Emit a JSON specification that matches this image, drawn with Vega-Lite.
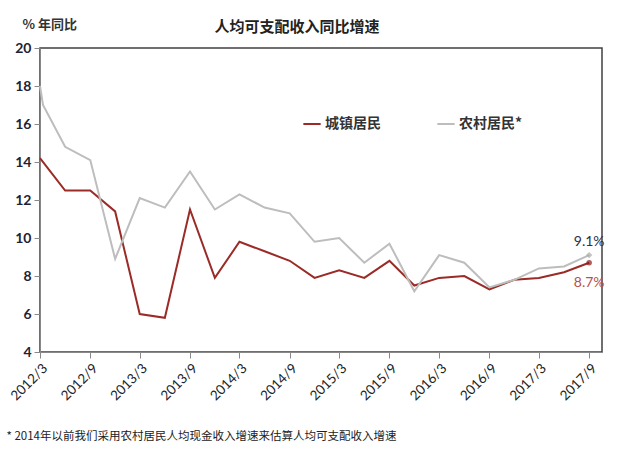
{
  "$schema": "https://vega.github.io/schema/vega-lite/v6.json",
  "width": 562,
  "height": 304,
  "autosize": {"type": "none"},
  "padding": {"left": 40, "top": 48, "right": 38, "bottom": 118},
  "background": "white",
  "config": {
    "view": {"stroke": "#404040", "strokeWidth": 1.5},
    "axis": {"grid": false}
  },
  "title": {
    "text": "人均可支配收入同比增速",
    "font": "Noto Sans CJK SC",
    "fontSize": 15,
    "fontWeight": "bold",
    "color": "#222222",
    "anchor": "middle",
    "dx": -24,
    "offset": -17
  },
  "data": {
    "values": [
      {"date": "2012-03-01", "series": "城镇居民", "value": 14.2},
      {"date": "2012-06-01", "series": "城镇居民", "value": 12.5},
      {"date": "2012-09-01", "series": "城镇居民", "value": 12.5},
      {"date": "2012-12-01", "series": "城镇居民", "value": 11.4},
      {"date": "2013-03-01", "series": "城镇居民", "value": 6.0},
      {"date": "2013-06-01", "series": "城镇居民", "value": 5.8},
      {"date": "2013-09-01", "series": "城镇居民", "value": 11.5},
      {"date": "2013-12-01", "series": "城镇居民", "value": 7.9},
      {"date": "2014-03-01", "series": "城镇居民", "value": 9.8},
      {"date": "2014-06-01", "series": "城镇居民", "value": 9.3},
      {"date": "2014-09-01", "series": "城镇居民", "value": 8.8},
      {"date": "2014-12-01", "series": "城镇居民", "value": 7.9},
      {"date": "2015-03-01", "series": "城镇居民", "value": 8.3},
      {"date": "2015-06-01", "series": "城镇居民", "value": 7.9},
      {"date": "2015-09-01", "series": "城镇居民", "value": 8.8},
      {"date": "2015-12-01", "series": "城镇居民", "value": 7.5},
      {"date": "2016-03-01", "series": "城镇居民", "value": 7.9},
      {"date": "2016-06-01", "series": "城镇居民", "value": 8.0},
      {"date": "2016-09-01", "series": "城镇居民", "value": 7.3},
      {"date": "2016-12-01", "series": "城镇居民", "value": 7.8},
      {"date": "2017-03-01", "series": "城镇居民", "value": 7.9},
      {"date": "2017-06-01", "series": "城镇居民", "value": 8.2},
      {"date": "2017-09-01", "series": "城镇居民", "value": 8.7},
      {"date": "2012-03-01", "series": "农村居民*", "value": 18.0},
      {"date": "2012-03-12", "series": "农村居民*", "value": 17.0},
      {"date": "2012-06-01", "series": "农村居民*", "value": 14.8},
      {"date": "2012-09-01", "series": "农村居民*", "value": 14.1},
      {"date": "2012-12-01", "series": "农村居民*", "value": 8.9},
      {"date": "2013-03-01", "series": "农村居民*", "value": 12.1},
      {"date": "2013-06-01", "series": "农村居民*", "value": 11.6},
      {"date": "2013-09-01", "series": "农村居民*", "value": 13.5},
      {"date": "2013-12-01", "series": "农村居民*", "value": 11.5},
      {"date": "2014-03-01", "series": "农村居民*", "value": 12.3},
      {"date": "2014-06-01", "series": "农村居民*", "value": 11.6},
      {"date": "2014-09-01", "series": "农村居民*", "value": 11.3},
      {"date": "2014-12-01", "series": "农村居民*", "value": 9.8},
      {"date": "2015-03-01", "series": "农村居民*", "value": 10.0},
      {"date": "2015-06-01", "series": "农村居民*", "value": 8.7},
      {"date": "2015-09-01", "series": "农村居民*", "value": 9.7},
      {"date": "2015-12-01", "series": "农村居民*", "value": 7.2},
      {"date": "2016-03-01", "series": "农村居民*", "value": 9.1},
      {"date": "2016-06-01", "series": "农村居民*", "value": 8.7},
      {"date": "2016-09-01", "series": "农村居民*", "value": 7.4},
      {"date": "2016-12-01", "series": "农村居民*", "value": 7.8},
      {"date": "2017-03-01", "series": "农村居民*", "value": 8.4},
      {"date": "2017-06-01", "series": "农村居民*", "value": 8.5},
      {"date": "2017-09-01", "series": "农村居民*", "value": 9.1}
    ]
  },
  "encoding": {
    "x": {
      "field": "date",
      "type": "temporal",
      "scale": {
        "type": "utc",
        "domain": [
          {"year": 2012, "month": 3, "date": 1, "utc": true},
          {"year": 2017, "month": 10, "date": 18, "utc": true}
        ]
      },
      "axis": {
        "values": [
          {"year": 2012, "month": 3, "date": 1, "utc": true},
          {"year": 2012, "month": 9, "date": 1, "utc": true},
          {"year": 2013, "month": 3, "date": 1, "utc": true},
          {"year": 2013, "month": 9, "date": 1, "utc": true},
          {"year": 2014, "month": 3, "date": 1, "utc": true},
          {"year": 2014, "month": 9, "date": 1, "utc": true},
          {"year": 2015, "month": 3, "date": 1, "utc": true},
          {"year": 2015, "month": 9, "date": 1, "utc": true},
          {"year": 2016, "month": 3, "date": 1, "utc": true},
          {"year": 2016, "month": 9, "date": 1, "utc": true},
          {"year": 2017, "month": 3, "date": 1, "utc": true},
          {"year": 2017, "month": 9, "date": 1, "utc": true}
        ],
        "labelExpr": "utcFormat(datum.value, '%Y/%-m')",
        "labelOverlap": false,
        "labelAngle": -45,
        "labelFont": "Lato",
        "labelFontSize": 13.5,
        "labelColor": "#222222",
        "labelPadding": 3,
        "domainColor": "#888888",
        "tickColor": "#888888",
        "tickSize": 6,
        "title": "* 2014年以前我们采用农村居民人均现金收入增速来估算人均可支配收入增速",
        "titleX": -34,
        "titleY": 84,
        "titleAlign": "left",
        "titleBaseline": "middle",
        "titleFont": "Noto Sans CJK SC",
        "titleFontSize": 11.5,
        "titleFontWeight": "normal",
        "titleColor": "#222222"
      }
    },
    "y": {
      "field": "value",
      "type": "quantitative",
      "scale": {"domain": [4, 20], "nice": false, "zero": false},
      "axis": {
        "values": [4, 6, 8, 10, 12, 14, 16, 18, 20],
        "labelFont": "Lato",
        "labelFontSize": 14,
        "labelFontWeight": "bold",
        "labelColor": "#222233",
        "labelPadding": 3,
        "domainColor": "#888888",
        "tickColor": "#888888",
        "tickSize": 6,
        "title": "% 年同比",
        "titleAngle": 0,
        "titleX": -18,
        "titleY": -24,
        "titleAlign": "left",
        "titleBaseline": "middle",
        "titleFont": "Noto Sans CJK SC",
        "titleFontSize": 13,
        "titleFontWeight": "bold",
        "titleColor": "#333333"
      }
    }
  },
  "layer": [
    {
      "mark": {"type": "line", "strokeWidth": 2},
      "encoding": {
        "color": {
          "field": "series",
          "type": "nominal",
          "scale": {"domain": ["城镇居民", "农村居民*"], "range": ["#9a2b26", "#bdbdbd"]},
          "legend": {
            "title": null,
            "orient": "none",
            "legendX": 262,
            "legendY": 66,
            "direction": "horizontal",
            "symbolType": "stroke",
            "symbolStrokeWidth": 2,
            "symbolSize": 300,
            "labelFont": "Noto Sans CJK SC",
            "labelFontSize": 14,
            "labelFontWeight": "bold",
            "labelColor": "#333333",
            "labelOffset": 3,
            "columnPadding": 52
          }
        }
      }
    },
    {
      "transform": [{"filter": "datum.series == '城镇居民' && utcyear(datum.date) == 2017 && utcmonth(datum.date) == 8"}],
      "mark": {"type": "point", "filled": true, "shape": "circle", "size": 30, "color": "#8b1a1a"},
      "encoding": {}
    },
    {
      "transform": [{"filter": "datum.series == '农村居民*' && utcyear(datum.date) == 2017 && utcmonth(datum.date) == 8"}],
      "mark": {"type": "point", "filled": true, "shape": "diamond", "size": 40, "color": "#aaaaaa"},
      "encoding": {}
    },
    {
      "transform": [
        {"filter": "datum.series == '城镇居民' && utcyear(datum.date) == 2017 && utcmonth(datum.date) == 8"},
        {"calculate": "format(datum.value, '.1f') + '%'", "as": "label"}
      ],
      "mark": {"type": "text", "font": "Lato", "fontSize": 14, "color": "#b5524c", "dy": 20, "align": "center"},
      "encoding": {"text": {"field": "label"}}
    },
    {
      "transform": [
        {"filter": "datum.series == '农村居民*' && utcyear(datum.date) == 2017 && utcmonth(datum.date) == 8"},
        {"calculate": "format(datum.value, '.1f') + '%'", "as": "label"}
      ],
      "mark": {"type": "text", "font": "Lato", "fontSize": 14, "color": "#2b2f4a", "dy": -13, "align": "center"},
      "encoding": {"text": {"field": "label"}}
    }
  ]
}
